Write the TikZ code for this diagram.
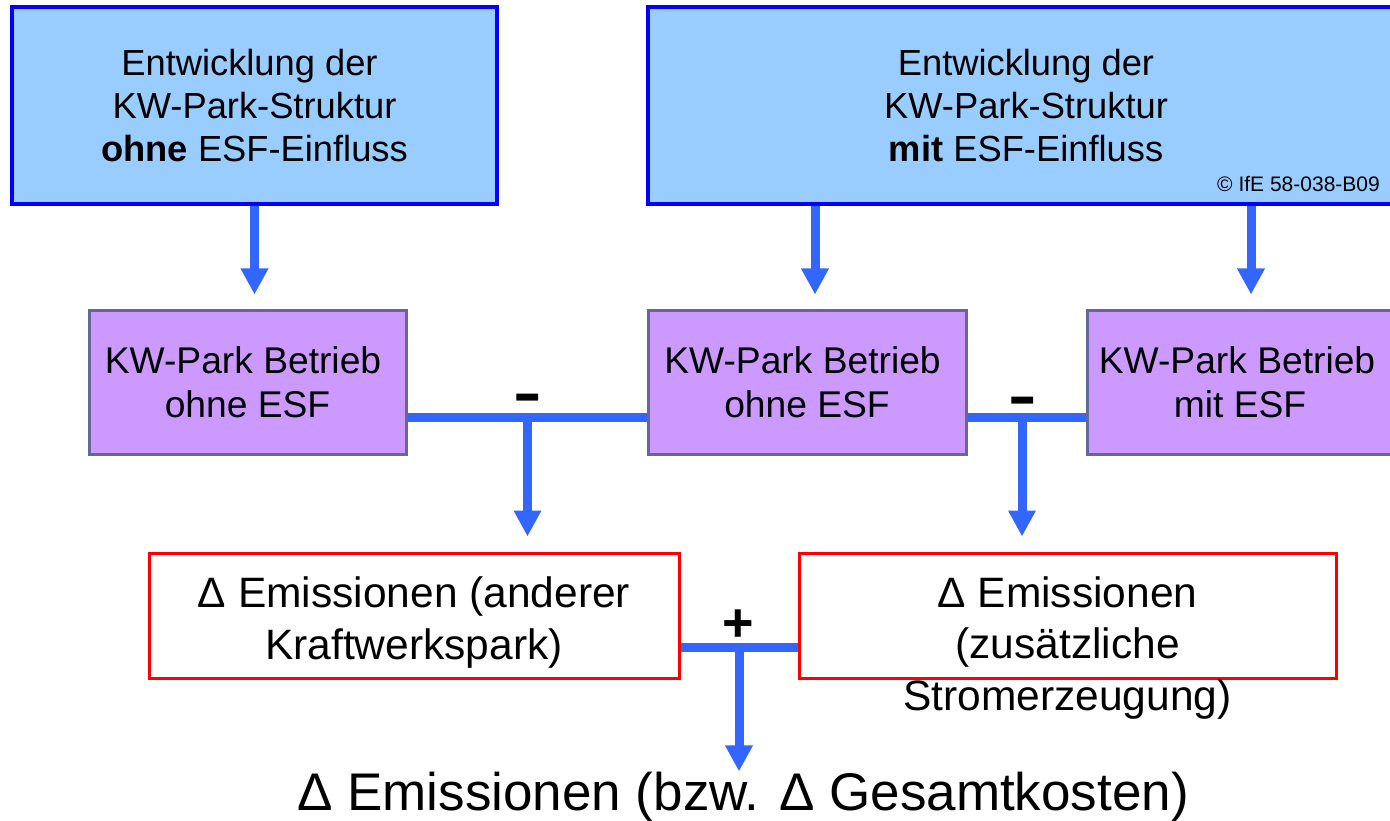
\documentclass[tikz,border=0pt]{standalone}
\usepackage{fontspec}
\setmainfont{Liberation Sans}
\usetikzlibrary{arrows.meta,calc}
\definecolor{structfill}{HTML}{99CCFF}
\definecolor{structedge}{HTML}{0000FF}
\definecolor{runfill}{HTML}{CC99FF}
\definecolor{runedge}{HTML}{666699}
\definecolor{flowblue}{HTML}{3366FF}
\definecolor{deltaedge}{HTML}{FF0000}
\tikzset{
  structbox/.style={draw=structedge, line width=3.5pt, fill=structfill, inner sep=0pt,
    align=center, font=\fontsize{36.3}{43}\selectfont},
  runbox/.style={draw=runedge, line width=3pt, fill=runfill, inner sep=0pt,
    align=center, font=\fontsize{37.2}{44}\selectfont},
  deltabox/.style={draw=deltaedge, line width=3pt, fill=white, inner sep=0pt},
  deltatext/.style={align=center, inner sep=0pt, anchor=base, font=\fontsize{42.5}{51.5}\selectfont},
  flow/.style={draw=flowblue, line width=9pt},
  flowarrow/.style={flow, -{Triangle[width=26pt,length=26pt]}},
  opsign/.style={inner sep=0pt, font=\fontsize{44}{44}\selectfont\bfseries},
}
\begin{document}
\begin{tikzpicture}[x=1pt,y=-1pt]
\clip (0,0) rectangle (1390,821);

% structure development (top row)
\node[structbox, minimum width=485pt, minimum height=197pt] (tl) at (254.5,105.5)
  {Entwicklung der\hspace*{10pt}\\KW-Park-Struktur\\\textbf{ohne} ESF-Einfluss};
\node[structbox, minimum width=756pt, minimum height=197pt] (tr) at (1026,105.5)
  {Entwicklung der\\KW-Park-Struktur\\\textbf{mit} ESF-Einfluss};
\node[anchor=base east, inner sep=0pt, font=\fontsize{21}{21}\selectfont] (copy) at (1380,191.5)
  {\textcopyright{} IfE 58-038-B09};

% plant operation (middle row)
\node[runbox, minimum width=317pt, minimum height=144pt] (pl) at (247.5,382)
  {KW-Park Betrieb\hspace*{9pt}\\ohne ESF};
\node[runbox, minimum width=318pt, minimum height=144pt] (pm) at (807,382)
  {KW-Park Betrieb\hspace*{9pt}\\ohne ESF};
\node[runbox, minimum width=306pt, minimum height=144pt] (pr) at (1240,382)
  {KW-Park Betrieb\hspace*{6pt}\\mit ESF};

% emission differences (bottom row)
\node[deltabox, minimum width=530pt, minimum height=125pt] (dl) at (414,615.5) {};
\node[deltabox, minimum width=537pt, minimum height=125pt] (dr) at (1067.5,615.5) {};
\node[deltatext] (dlt) at (414,659) {Δ Emissionen (anderer\\Kraftwerkspark)};
\node[deltatext] (drt) at (1067.5,710) {Δ Emissionen\\(zusätzliche\\Stromerzeugung)};

\node[anchor=base, inner sep=0pt, font=\fontsize{53}{53}\selectfont] (total) at (743,810)
  {Δ Emissionen (bzw. Δ Gesamtkosten)};

% junction points
\coordinate (j1) at (527.5,417);
\coordinate (j2) at (1022,417);
\coordinate (j3) at (739,647);
\coordinate (a2) at (815,0);
\coordinate (a3) at (1251,0);

% arrows from the structures to the operation runs
\draw[flowarrow, shorten >=14pt] (tl.south) -- (pl.north -| tl.south);
\draw[flowarrow, shorten >=14pt] (tr.south -| a2) -- (pm.north -| a2);
\draw[flowarrow, shorten >=14pt] (tr.south -| a3) -- (pr.north -| a3);

% differences of operation runs
\draw[flow] (pl.east |- j1) -- (pm.west |- j1);
\draw[flow] (pm.east |- j2) -- (pr.west |- j2);
\draw[flowarrow, shorten >=15pt] (j1) -- (dl.north -| j1);
\draw[flowarrow, shorten >=15pt] (j2) -- (dr.north -| j2);

% sum of the differences
\draw[flow] (dl.east |- j3) -- (dr.west |- j3);
\draw[flowarrow] (j3) -- (total.north -| j3);

% operators
\node[opsign, yscale=1.6] (m1) at (528,405) {--};
\node[opsign, yscale=1.6] (m2) at (1023,408) {--};
\node[opsign, font=\fontsize{54}{54}\selectfont\bfseries] (p1) at (738,626) {+};
\end{tikzpicture}
\end{document}
